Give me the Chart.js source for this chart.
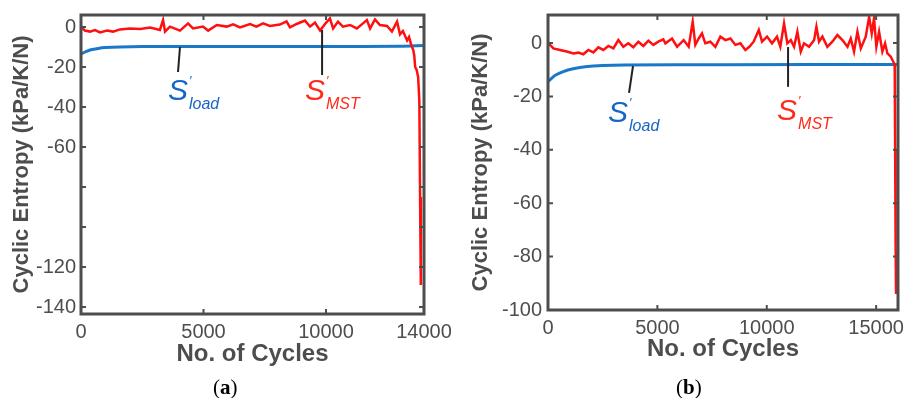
<!DOCTYPE html>
<html><head><meta charset="utf-8">
<script src="https://cdn.jsdelivr.net/npm/chart.js@4/dist/chart.umd.min.js"></script>
<style>
body{margin:0;background:#fff;width:909px;height:398px;overflow:hidden;position:relative;font-family:"Liberation Sans",Arial,sans-serif}
.wrap{position:absolute;top:0;height:398px}
.cap{position:absolute;top:374px;font-family:"Liberation Serif","Times New Roman",serif;font-size:21px;color:#000;line-height:26px}
</style></head><body>
<div class="wrap" style="left:455px;width:454px"><canvas id="cb" width="454" height="398"></canvas></div>
<div class="wrap" style="left:0;width:470px"><canvas id="ca" width="470" height="398"></canvas></div>
<div class="cap" style="left:213px">(<b>a</b>)</div>
<div class="cap" style="left:676px">(<b>b</b>)</div>
<script>
// ---------- Panel (a) data ----------
const cyclesMstA = [0,160,370,570,780,1060,1310,1590,2000,2410,2820,3220,3350,3430,3630,4040,4370,4570,4980,5190,5540,5950,6210,6490,6900,7160,7430,7710,8120,8390,8530,8800,9140,9350,9550,9760,9960,10160,10290,10490,10690,10980,11260,11510,11670,11800,12000,12200,12490,12690,12900,13020,13140,13310,13390,13480,13560,13600,13640,13700,13760,13810,13840,13870];
const sMstA = [0.2,-1.8,-2.3,-1.5,-2.7,-1.8,-2.3,-1.2,-0.7,-1,-0.3,-1.5,3.5,-2.3,0.2,-1.8,1.8,-0.7,0.2,-1.8,1,0.2,1.3,-0.2,1.5,0.2,1.8,0.5,1.2,2.8,-0.2,1.5,3.2,0.2,2.2,-1.8,1.5,4.3,-0.7,2.7,0.2,1,-0.7,1.8,3.5,-0.7,3.8,1,0.5,-2.3,2.7,-3.7,-2,-6.7,-5,-9,-11.5,-14,-20,-21.5,-25,-37,-85,-129];
const cyclesLoadA = [0,200,400,700,1000,1600,2500,5000,10000,13000,14000];
const sLoadA = [-13.5,-12.3,-11.4,-10.7,-10.3,-10,-9.8,-9.7,-9.7,-9.6,-9.2];
const xTicksA = [0,5000,10000,14000];
const yTicksA = [-140,-120,-100,-80,-60,-40,-20,0];
const yUnlabeledA = [-80,-100];

// ---------- Panel (b) data ----------
const cyclesMstB = [0,245,550,855,1160,1390,1615,1845,2075,2300,2530,2760,2990,3215,3445,3670,3900,4130,4360,4590,4815,5045,5270,5365,5670,5900,6200,6430,6615,6735,6890,7040,7190,7420,7650,7880,8110,8340,8565,8795,9020,9205,9400,9635,9785,10015,10240,10470,10620,10790,10940,11100,11250,11400,11555,11705,11935,12165,12270,12390,12545,12770,13000,13230,13460,13690,13840,13990,14145,14300,14525,14680,14800,14905,15010,15135,15285,15410,15515,15670,15820,15850,15870,15890,15910];
const sMstB = [0.1,-2,-2.6,-3.2,-3.9,-3.6,-4.2,-2.6,-3.5,-1.6,-2.6,-1.1,-2,1.1,-1.4,-0.1,-1.6,0.5,-1.1,0.9,-0.7,0.5,1.4,-0.1,1.7,-1.4,1.1,-1.4,8,-0.7,1.7,3.6,-0.1,0.5,-1.4,2.4,1.1,1.7,-0.7,-0.1,-2.6,-1.4,0.5,4.9,0.5,2.4,-0.1,2.4,-1.4,7.3,-0.1,1.1,-1.4,4.2,-3.2,-0.1,-1.4,1.1,6.1,0.5,2.4,-1.4,0.5,3,1.1,-1.4,1.7,-3.2,4.2,-2,2.4,9.8,3.6,9.2,-1.4,4.2,-3.2,-0.1,-3.9,-5.1,-7.6,-9,-40,-75,-94];
const cyclesLoadB = [0,150,350,700,1100,1700,2500,3500,8000,16000];
const sLoadB = [-14.5,-13.3,-12,-10.7,-9.7,-8.9,-8.4,-8.2,-8.1,-8];
const xTicksB = [0,5000,10000,15000];
const yTicksB = [-100,-80,-60,-40,-20,0];

// annotation anchors in data units: leader line from (x1,y1) to (x2,y2), label at (tx,ty)
const notesA = [
  {sub:'load', color:'#1565c8', x1:4040, y1:-10, x2:3960, y2:-22.5, tx:3550, ty:-36.5},
  {sub:'MST',  color:'#ff2a1a', x1:9840, y1:-1.5, x2:9840, y2:-24,  tx:9140, ty:-36.5}
];
const notesB = [
  {sub:'load', color:'#1565c8', x1:3887, y1:-8.6, x2:3704, y2:-18.7, tx:2744, ty:-29.5},
  {sub:'MST',  color:'#ff2a1a', x1:10974, y1:-1.5, x2:10974, y2:-16.4, tx:10471, ty:-28.7}
];

const AX = '#4d4d4d';
const FONT = '"Liberation Sans", Arial, sans-serif';
const pts = (xs, ys) => xs.map((x, i) => ({x, y: ys[i]}));

const boxPlugin = {
  id: 'box',
  afterDatasetsDraw(chart) {
    const {ctx, chartArea: a, scales: {x, y}} = chart;
    ctx.save();
    ctx.strokeStyle = AX;
    ctx.lineWidth = 2;
    const L = 5;
    ctx.beginPath();
    x.ticks.forEach(t => {
      const p = x.getPixelForValue(t.value);
      ctx.moveTo(p, a.bottom); ctx.lineTo(p, a.bottom - L);
      ctx.moveTo(p, a.top); ctx.lineTo(p, a.top + L);
    });
    y.ticks.forEach(t => {
      const p = y.getPixelForValue(t.value);
      ctx.moveTo(a.left, p); ctx.lineTo(a.left + L, p);
      ctx.moveTo(a.right, p); ctx.lineTo(a.right - L, p);
    });
    ctx.stroke();
    ctx.lineWidth = 3;
    ctx.strokeRect(a.left, a.top, a.right - a.left, a.bottom - a.top);
    const notes = chart.options.plugins.box.notes;
    notes.forEach(n => {
      ctx.strokeStyle = '#222'; ctx.lineWidth = 2;
      ctx.beginPath();
      ctx.moveTo(x.getPixelForValue(n.x1), y.getPixelForValue(n.y1));
      ctx.lineTo(x.getPixelForValue(n.x2), y.getPixelForValue(n.y2));
      ctx.stroke();
      const tx = x.getPixelForValue(n.tx), ty = y.getPixelForValue(n.ty);
      ctx.fillStyle = n.color;
      ctx.textBaseline = 'alphabetic'; ctx.textAlign = 'left';
      ctx.font = 'italic 30px ' + FONT;
      ctx.fillText('S', tx, ty);
      const w = ctx.measureText('S').width;
      ctx.font = 'italic 13px ' + FONT;
      ctx.fillText('\u2032', tx + w + 1, ty - 15);
      ctx.font = 'italic 16px ' + FONT;
      ctx.fillText(n.sub, tx + w + 1, ty + 9);
    });
    ctx.restore();
  }
};

function makeChart(id, o) {
  return new Chart(document.getElementById(id), {
    type: 'line',
    data: {
      datasets: [
        {data: pts(o.cm, o.sm), borderColor: '#ff1010', borderWidth: 2.5, pointRadius: 0, tension: 0, order: 0},
        {data: pts(o.cl, o.sl), borderColor: '#1a78c8', borderWidth: 3, pointRadius: 0, tension: 0.3, order: 1}
      ]
    },
    options: {
      responsive: false, animation: false,
      layout: {padding: o.pad},
      plugins: {legend: {display: false}, tooltip: {enabled: false}, box: {notes: o.notes}},
      scales: {
        x: {
          type: 'linear', min: 0, max: o.xmax,
          afterBuildTicks: s => { s.ticks = o.xt.map(v => ({value: v})); },
          afterFit: s => { s.height = o.xh; s.paddingLeft = 0; s.paddingRight = 0; },
          grid: {display: false, drawTicks: false},
          border: {display: false},
          ticks: {color: AX, font: {family: FONT, size: 20}, padding: 6, maxRotation: 0, autoSkip: false, callback: v => String(v)},
          title: {display: true, text: 'No. of Cycles', color: AX, font: {family: FONT, size: 24, weight: 'bold'}, padding: {top: 0, bottom: o.xtp}}
        },
        y: {
          type: 'linear', min: o.ymin, max: o.ymax,
          afterBuildTicks: s => { s.ticks = o.yt.map(v => ({value: v})); },
          afterFit: s => { s.width = o.yw; s.paddingTop = 0; s.paddingBottom = 0; },
          grid: {display: false, drawTicks: false},
          border: {display: false},
          ticks: {color: AX, font: {family: FONT, size: 20}, padding: o.ytpad, autoSkip: false, callback: v => (o.yu.includes(v) ? '' : String(v))},
          title: {display: true, text: 'Cyclic Entropy (kPa/K/N)', color: AX, font: {family: FONT, size: 22, weight: 'bold'}, padding: {top: o.ytp, bottom: 0}}
        }
      }
    },
    plugins: [boxPlugin]
  });
}

makeChart('ca', {cm: cyclesMstA, sm: sMstA, cl: cyclesLoadA, sl: sLoadA, xmax: 14000, ymin: -143.5, ymax: 6,
  xt: xTicksA, yt: yTicksA, yu: yUnlabeledA, notes: notesA,
  pad: {top: 15, right: 46, bottom: 22, left: 0}, xh: 62, yw: 81, xtp: 7, ytp: 9, ytpad: 5});
makeChart('cb', {cm: cyclesMstB, sm: sMstB, cl: cyclesLoadB, sl: sLoadB, xmax: 16000, ymin: -100, ymax: 10.5,
  xt: xTicksB, yt: yTicksB, yu: [], notes: notesB,
  pad: {top: 15, right: 11, bottom: 26, left: 0}, xh: 62, yw: 93, xtp: 8, ytp: 13, ytpad: 6});
</script>
</body></html>
